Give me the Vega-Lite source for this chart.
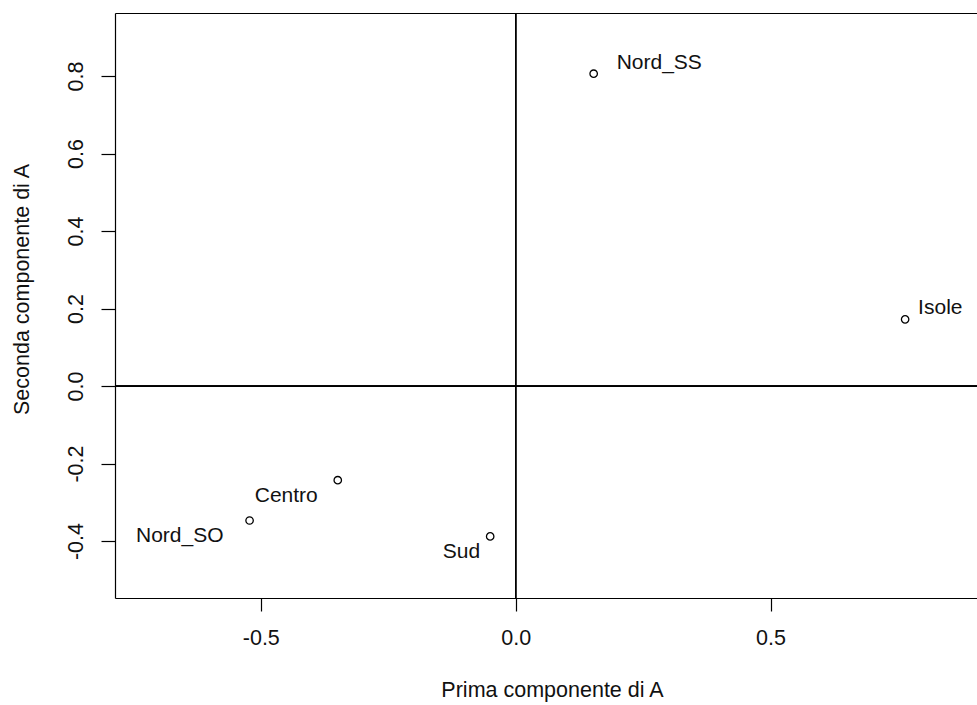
{
  "$schema": "https://vega.github.io/schema/vega-lite/v6.json",
  "width": 862,
  "height": 585,
  "autosize": {"type": "none"},
  "padding": {"left": 115, "top": 13, "right": 0, "bottom": 107},
  "background": "white",
  "config": {
    "view": {"stroke": null},
    "font": "Liberation Sans",
    "axis": {
      "grid": false,
      "domainColor": "black",
      "domainWidth": 1.2,
      "tickColor": "black",
      "tickWidth": 1.2,
      "labelColor": "#111",
      "titleColor": "#111",
      "labelFont": "Liberation Sans",
      "titleFont": "Liberation Sans",
      "labelFontSize": 21.5,
      "titleFontSize": 21.5,
      "titleFontWeight": "normal"
    }
  },
  "data": {
    "values": [
      {"regione": "Nord_SS", "pc1": 0.153, "pc2": 0.806},
      {"regione": "Isole", "pc1": 0.764, "pc2": 0.172},
      {"regione": "Centro", "pc1": -0.349, "pc2": -0.243},
      {"regione": "Nord_SO", "pc1": -0.522, "pc2": -0.347},
      {"regione": "Sud", "pc1": -0.050, "pc2": -0.388}
    ]
  },
  "encoding": {
    "x": {"field": "pc1", "type": "quantitative", "scale": {"domain": [-0.786, 0.905], "nice": false, "zero": false}},
    "y": {"field": "pc2", "type": "quantitative", "scale": {"domain": [-0.547, 0.9626], "nice": false, "zero": false}}
  },
  "layer": [
    {
      "mark": {"type": "point", "shape": "circle", "filled": false, "stroke": "black", "strokeWidth": 1.3, "size": 55, "opacity": 1},
      "encoding": {
        "x": {"field": "pc1", "type": "quantitative", "title": "Prima componente di A",
          "axis": {"values": [-0.5, 0, 0.5], "tickSize": 13, "labelPadding": 16, "titlePadding": 31, "titleX": 437,
            "labelExpr": "datum.value < 0 ? '-' + format(-datum.value, '.1f') : format(datum.value, '.1f')"}},
        "y": {"field": "pc2", "type": "quantitative", "title": "Seconda componente di A",
          "axis": {"values": [-0.4, -0.2, 0, 0.2, 0.4, 0.6, 0.8], "tickSize": 14, "labelPadding": 14,
            "labelAngle": -90, "labelAlign": "center", "labelBaseline": "bottom", "titlePadding": 32, "titleY": 276,
            "labelExpr": "datum.value < 0 ? '-' + format(-datum.value, '.1f') : format(datum.value, '.1f')"}}
      }
    },
    {
      "mark": {"type": "rule", "color": "black", "strokeWidth": 1.2},
      "encoding": {
        "x": {"datum": 0, "type": "quantitative",
          "axis": {"orient": "top", "labels": false, "ticks": false, "domain": true, "title": null}},
        "y": null
      }
    },
    {
      "mark": {"type": "rule", "color": "black", "strokeWidth": 1.2},
      "encoding": {
        "y": {"datum": 0, "type": "quantitative", "axis": null},
        "x": null
      }
    },
    {
      "transform": [{"filter": "datum.regione === 'Nord_SS'"}],
      "mark": {"type": "text", "align": "left", "baseline": "middle", "dx": 23, "dy": -11, "fontSize": 21, "color": "#111", "font": "Liberation Sans"},
      "encoding": {"text": {"field": "regione"}, "x": {"field": "pc1", "type": "quantitative", "axis": null}, "y": {"field": "pc2", "type": "quantitative", "axis": null}}
    },
    {
      "transform": [{"filter": "datum.regione === 'Isole'"}],
      "mark": {"type": "text", "align": "left", "baseline": "middle", "dx": 13, "dy": -11, "fontSize": 21, "color": "#111", "font": "Liberation Sans"},
      "encoding": {"text": {"field": "regione"}, "x": {"field": "pc1", "type": "quantitative", "axis": null}, "y": {"field": "pc2", "type": "quantitative", "axis": null}}
    },
    {
      "transform": [{"filter": "datum.regione === 'Centro'"}],
      "mark": {"type": "text", "align": "right", "baseline": "middle", "dx": -20, "dy": 16, "fontSize": 21, "color": "#111", "font": "Liberation Sans"},
      "encoding": {"text": {"field": "regione"}, "x": {"field": "pc1", "type": "quantitative", "axis": null}, "y": {"field": "pc2", "type": "quantitative", "axis": null}}
    },
    {
      "transform": [{"filter": "datum.regione === 'Nord_SO'"}],
      "mark": {"type": "text", "align": "right", "baseline": "middle", "dx": -26, "dy": 16, "fontSize": 21, "color": "#111", "font": "Liberation Sans"},
      "encoding": {"text": {"field": "regione"}, "x": {"field": "pc1", "type": "quantitative", "axis": null}, "y": {"field": "pc2", "type": "quantitative", "axis": null}}
    },
    {
      "transform": [{"filter": "datum.regione === 'Sud'"}],
      "mark": {"type": "text", "align": "right", "baseline": "middle", "dx": -10, "dy": 16, "fontSize": 21, "color": "#111", "font": "Liberation Sans"},
      "encoding": {"text": {"field": "regione"}, "x": {"field": "pc1", "type": "quantitative", "axis": null}, "y": {"field": "pc2", "type": "quantitative", "axis": null}}
    }
  ],
  "resolve": {"axis": {"x": "independent", "y": "independent"}}
}
